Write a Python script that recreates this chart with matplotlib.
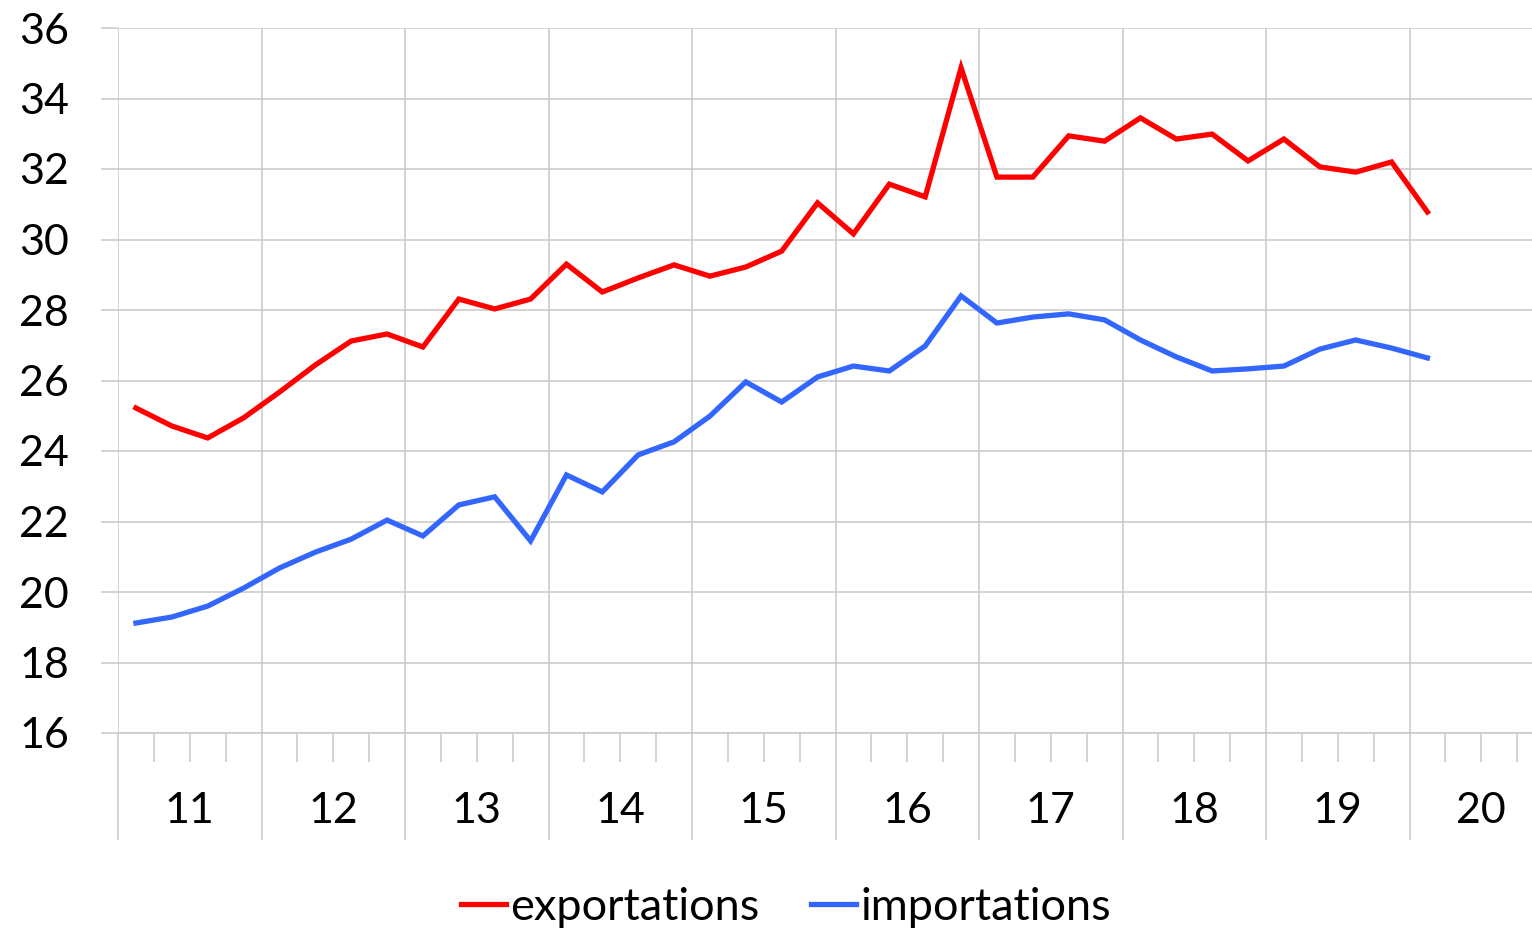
import matplotlib
matplotlib.use('Agg')
import matplotlib.pyplot as plt
import matplotlib.transforms as mtransforms

plt.rcParams['font.family'] = ['Lato', 'DejaVu Sans']

# quarterly values, 2011 Q1 to 2020 Q1
exportations = [25.22, 24.71, 24.37, 24.94, 25.67, 26.44, 27.12, 27.32, 26.95,
                28.31, 28.03, 28.31, 29.30, 28.51, 28.91, 29.28, 28.96, 29.22,
                29.67, 31.04, 30.16, 31.57, 31.21, 34.87, 31.77, 31.77, 32.94,
                32.79, 33.45, 32.85, 32.99, 32.23, 32.85, 32.06, 31.91, 32.20,
                30.78]
importations = [19.12, 19.29, 19.60, 20.11, 20.68, 21.13, 21.50, 22.04, 21.59,
                22.47, 22.70, 21.45, 23.32, 22.84, 23.89, 24.26, 24.99, 25.96,
                25.39, 26.10, 26.41, 26.27, 26.98, 28.40, 27.63, 27.80, 27.89,
                27.72, 27.15, 26.67, 26.27, 26.33, 26.41, 26.89, 27.15, 26.92,
                26.64]
years = ['11', '12', '13', '14', '15', '16', '17', '18', '19', '20']
yticks = [16, 18, 20, 22, 24, 26, 28, 30, 32, 34, 36]

W, H = 1532, 932
fs = 31
fig = plt.figure(figsize=(W / 100, H / 100), dpi=100)
# plot area runs past the right edge, as in the source image
ax = fig.add_axes([118 / W, (H - 733) / H, (1553 - 118) / W, (733 - 28) / H])

grid_c = '#c8c8c8'
x = list(range(len(exportations)))
ax.plot(x, exportations, color='#ff0000', lw=3.8, label='exportations',
        solid_joinstyle='miter', clip_on=False)
ax.plot(x, importations, color='#3366ff', lw=3.8, label='importations',
        solid_joinstyle='miter', clip_on=False)

nq = 4 * len(years)
ax.set_xlim(-0.5, nq - 0.5)
ax.set_ylim(16, 36)

ax.set_yticks(yticks)
ax.set_yticklabels([str(v) for v in yticks], fontsize=fs)
ax.tick_params(axis='y', length=12.2, width=1.1, color=grid_c, pad=23)

bounds = [-0.5 + 4 * k for k in range(len(years) + 1)]
ax.set_xticks(bounds)
ax.set_xticklabels([''] * len(bounds))
ax.set_xticks([-0.5 + k for k in range(nq + 1)], minor=True)
ax.tick_params(axis='x', which='major', length=77, width=1.1, color=grid_c)
ax.tick_params(axis='x', which='minor', length=21, width=1.1, color=grid_c)

ax.grid(True, which='major', color=grid_c, lw=1.1)
for s in ['top', 'right', 'left']:
    ax.spines[s].set_visible(False)
ax.spines['bottom'].set_color(grid_c)
ax.spines['bottom'].set_linewidth(1.1)
ax.set_axisbelow(True)

trans = mtransforms.blended_transform_factory(ax.transData, ax.transAxes)
for k, yr in enumerate(years):
    ax.text(1.5 + 4 * k, -(811 - 733) / 705, yr, transform=trans,
            ha='center', va='center', fontsize=fs)

leg = fig.legend(loc='center', bbox_to_anchor=(786 / W, (H - 907) / H), ncol=2,
                 frameon=False, fontsize=32.5, handlelength=1.0,
                 handletextpad=0.08, columnspacing=1.15)

fig.savefig('out.png', dpi=100)
